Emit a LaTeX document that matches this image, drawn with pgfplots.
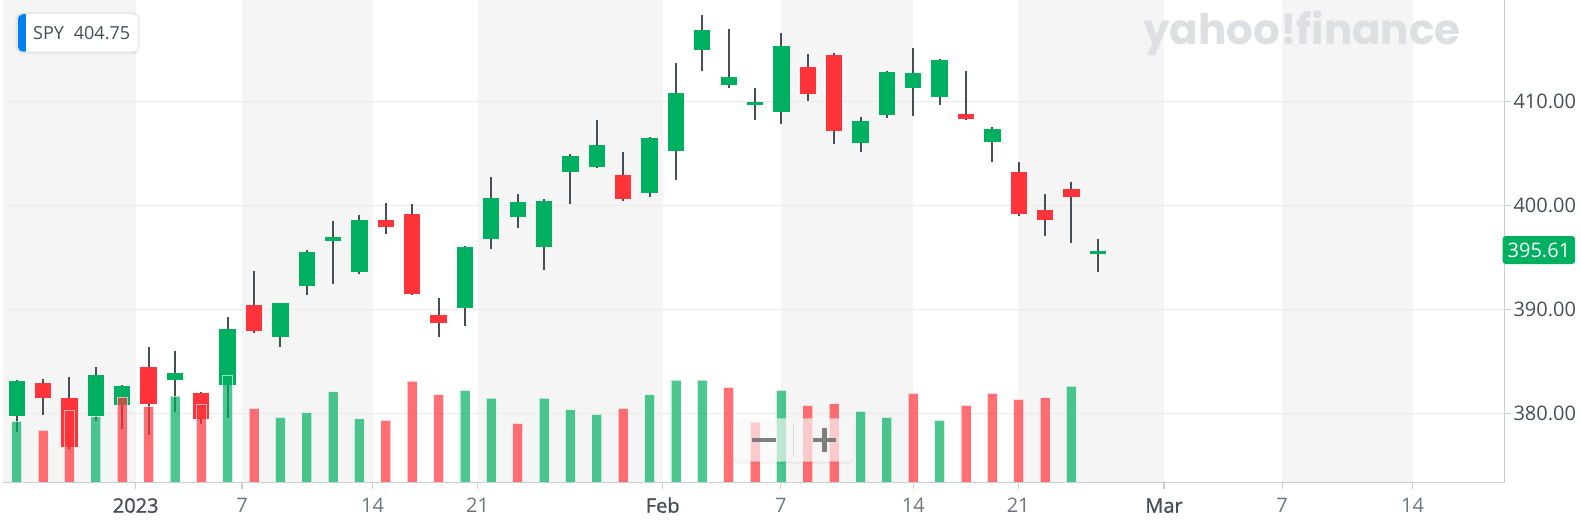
\documentclass[border=0pt]{standalone}
\usepackage{fontspec}
\setmainfont{Open Sans}
\newfontfamily\semib{Open Sans}[FakeBold=1.0]
\newfontfamily\wmfont{Poppins}
\usepackage{graphicx}
\usepackage{pgfplots}
\pgfplotsset{compat=1.18}
\usepackage{pgfplotstable}

\definecolor{upc}{HTML}{00B061}
\definecolor{downc}{HTML}{FF333A}
\definecolor{wickc}{HTML}{464E56}
\definecolor{bandc}{HTML}{F5F5F5}
\definecolor{gridc}{HTML}{EBEBEB}
\definecolor{axisc}{HTML}{C9CDD2}
\definecolor{labc}{HTML}{464E56}
\definecolor{lightlab}{HTML}{6E7780}
\definecolor{blueb}{HTML}{0081F2}
\definecolor{wmc}{HTML}{DDDFE3}

% candles: index, open, high, low, close
\pgfplotstableread{
i o h l c
0 379.78 383.21 378.24 383.09
3 379.78 384.43 379.27 383.66
4 380.78 382.73 378.53 382.64
6 383.25 385.97 380.17 383.92
8 382.70 389.24 379.59 388.16
10 387.33 390.67 386.41 390.60
11 392.22 395.71 391.43 395.58
12 396.63 398.56 392.44 397.00
13 393.65 399.10 393.43 398.62
17 390.10 396.09 388.41 395.99
18 396.76 402.72 395.83 400.77
19 398.94 401.15 397.85 400.35
20 396.06 400.67 393.80 400.48
21 403.27 405.00 400.16 404.78
22 403.69 408.21 403.62 405.80
24 401.22 406.60 400.87 406.54
25 405.26 413.69 402.47 410.87
26 414.94 418.30 412.98 416.89
27 411.63 416.99 411.28 412.40
28 409.65 411.35 408.24 409.97
29 409.04 416.57 407.82 415.32
32 405.99 408.49 405.19 408.11
33 408.75 412.98 408.40 412.88
34 411.31 415.13 408.65 412.72
35 410.48 414.13 409.68 414.01
37 406.15 407.60 404.17 407.37
41 395.30 396.83 393.65 395.61
}\upcandles

\pgfplotstableread{
i o h l c
1 382.92 383.31 379.85 381.51
2 381.48 383.47 376.54 376.73
5 384.50 386.35 377.95 380.93
7 381.93 382.03 378.98 379.49
9 390.44 393.68 387.71 387.90
14 398.62 400.29 397.28 397.92
15 399.20 400.13 391.43 391.52
16 389.46 391.11 387.40 388.67
23 402.92 405.16 400.45 400.67
30 413.30 414.55 410.10 410.74
31 414.49 414.68 405.93 407.15
36 408.81 412.95 408.24 408.30
38 403.21 404.17 398.97 399.23
39 399.58 401.15 397.08 398.65
40 401.60 402.31 396.38 400.80
}\downcandles

% volume (millions)
\pgfplotstableread{
i v
0 61.4
3 66.0
6 86.7
8 107.0
10 65.4
11 70.0
12 91.0
13 64.0
17 92.4
18 84.7
20 84.7
21 73.0
22 68.4
24 88.0
25 102.7
26 102.7
29 92.4
32 71.4
33 65.4
35 62.4
40 96.7
}\upvol

\pgfplotstableread{
i v
1 52.4
2 72.0
4 85.7
5 76.0
7 78.4
9 74.4
14 62.4
15 101.7
16 88.0
19 59.4
23 74.4
27 95.4
28 60.7
30 77.4
31 79.0
34 89.4
36 77.4
37 89.4
38 83.4
39 85.0
}\downvol

\begin{document}
\begin{tikzpicture}
\path[use as bounding box] (0pt,0pt) rectangle (1581pt,523pt);
\fill[white] (0pt,0pt) rectangle (1581pt,523pt);

\begin{axis}[
  at={(3.3pt,40.3pt)}, anchor=south west,
  scale only axis, width=1501.4pt, height=482.7pt,
  xmin=-0.508, xmax=56.43, ymin=373.33, ymax=419.79,
  axis on top,
  axis x line=bottom, axis y line=right,
  axis line style={draw=axisc, line width=1.2pt, -},
  x axis line style={-}, y axis line style={-},
  tick align=outside, major tick length=6pt,
  tick style={draw=axisc, line width=1.2pt},
  xtick={4.513,8.544,13.50,17.48,24.50,28.98,34.0,37.98,43.51,47.99,52.94},
  xticklabels={{\semib\textcolor{labc}{2023}},\textcolor{lightlab}{7},\textcolor{lightlab}{14},\textcolor{lightlab}{21},{\semib\textcolor{labc}{Feb}},\textcolor{lightlab}{7},\textcolor{lightlab}{14},\textcolor{lightlab}{21},{\semib\textcolor{labc}{Mar}},\textcolor{lightlab}{7},\textcolor{lightlab}{14}},
  ytick={380,390,400,410},
  yticklabels={380.00,390.00,400.00,410.00},
  ticklabel style={font=\fontsize{20}{24}\selectfont},
  yticklabel style={anchor=west, inner sep=0pt, xshift=2.6pt, text=labc},
  xticklabel style={anchor=base, inner sep=0pt, yshift=-24pt},
]
% background bands
\addplot[draw=none, fill=bandc, forget plot] coordinates {(-1,370) (4.513,370) (4.513,425) (-1,425)} --cycle;
\addplot[draw=none, fill=bandc, forget plot] coordinates {(8.544,370) (13.50,370) (13.50,425) (8.544,425)} --cycle;
\addplot[draw=none, fill=bandc, forget plot] coordinates {(17.48,370) (24.50,370) (24.50,425) (17.48,425)} --cycle;
\addplot[draw=none, fill=bandc, forget plot] coordinates {(28.98,370) (34.0,370) (34.0,425) (28.98,425)} --cycle;
\addplot[draw=none, fill=bandc, forget plot] coordinates {(37.98,370) (43.51,370) (43.51,425) (37.98,425)} --cycle;
\addplot[draw=none, fill=bandc, forget plot] coordinates {(47.99,370) (52.94,370) (52.94,425) (47.99,425)} --cycle;
% grid lines
\addplot[gridc, line width=1.2pt, forget plot] coordinates {(-1,380) (57,380)};
\addplot[gridc, line width=1.2pt, forget plot] coordinates {(-1,390) (57,390)};
\addplot[gridc, line width=1.2pt, forget plot] coordinates {(-1,400) (57,400)};
\addplot[gridc, line width=1.2pt, forget plot] coordinates {(-1,410) (57,410)};
% wicks
\addplot[draw=none, mark=none, forget plot,
  error bars/.cd, y dir=plus, y explicit, error mark=none,
  error bar style={draw=wickc, line width=2pt}]
  table[x=i, y=l, y error expr=\thisrow{h}-\thisrow{l}] {\upcandles};
\addplot[draw=none, mark=none, forget plot,
  error bars/.cd, y dir=plus, y explicit, error mark=none,
  error bar style={draw=wickc, line width=2pt}]
  table[x=i, y=l, y error expr=\thisrow{h}-\thisrow{l}] {\downcandles};
% bodies
\addplot[draw=none, mark=none, forget plot,
  error bars/.cd, y dir=plus, y explicit, error mark=none,
  error bar style={draw=upc, line width=16.3pt}]
  table[x=i, y=o, y error expr=\thisrow{c}-\thisrow{o}] {\upcandles};
\addplot[draw=none, mark=none, forget plot,
  error bars/.cd, y dir=plus, y explicit, error mark=none,
  error bar style={draw=downc, line width=16.3pt}]
  table[x=i, y=c, y error expr=\thisrow{o}-\thisrow{c}] {\downcandles};
\end{axis}

\begin{axis}[
  at={(3.3pt,40.3pt)}, anchor=south west,
  scale only axis, width=1501.4pt, height=482.7pt,
  xmin=-0.508, xmax=56.43, ymin=0, ymax=482.7,
  axis on top,
  axis x line=bottom, axis y line=none,
  axis line style={draw=axisc, line width=1.2pt, -},
  x axis line style={-},
  xtick=\empty, ytick=\empty,
  ybar, bar width=10pt,
]
\addplot[bar shift=0pt, fill=upc, fill opacity=0.7, draw=white, draw opacity=0.6, line width=0.8pt] table[x=i, y=v] {\upvol};
\addplot[bar shift=0pt, fill=downc, fill opacity=0.7, draw=white, draw opacity=0.6, line width=0.8pt] table[x=i, y=v] {\downvol};
\end{axis}

% zoom control
\fill[black, opacity=0.05, rounded corners=5pt] (732.8pt,59.3pt) rectangle (853.8pt,104.2pt);
\fill[white, opacity=0.65, rounded corners=5pt] (733.3pt,61.3pt) rectangle (853.3pt,104.7pt);
\draw[line width=4.5pt, color=black!58, opacity=0.85] (752pt,83pt) -- (776pt,83pt);
\draw[line width=4.5pt, color=black!58, opacity=0.85] (813pt,83pt) -- (836pt,83pt);
\draw[line width=4.5pt, color=black!58, opacity=0.85] (824.3pt,70.8pt) -- (824.3pt,80.75pt) (824.3pt,85.25pt) -- (824.3pt,94.7pt);
\draw[line width=1.5pt, color=black!15] (793.3pt,66.3pt) -- (793.3pt,100.3pt);

% legend box
\fill[black, opacity=0.03, rounded corners=7pt] (14.9pt,468.3pt) rectangle (140.6pt,510.8pt);
\fill[black, opacity=0.04, rounded corners=6pt] (16.4pt,469.8pt) rectangle (139.1pt,509.8pt);
\fill[white, rounded corners=5pt] (17.9pt,471.3pt) rectangle (137.6pt,508.8pt);
\begin{scope}
\clip[rounded corners=5pt] (17.9pt,471.3pt) rectangle (137.6pt,508.8pt);
\fill[blueb] (17.9pt,471.3pt) rectangle (25.9pt,508.8pt);
\end{scope}
\node[anchor=west, inner sep=0pt, text=labc, font=\fontsize{18}{22}\selectfont] at (33pt,489.5pt) {SPY\hspace{0.55em}404.75};

% last price label
\fill[upc, rounded corners=3pt] (1502.7pt,259pt) rectangle (1575pt,287pt);
\node[text=white, inner sep=0pt, font=\fontsize{20}{24}\selectfont] at (1538.9pt,273pt) {395.61};

% watermark
\node[anchor=base west, inner sep=0pt, text=wmc] at (1142.8pt,478.7pt) {\resizebox{317.5pt}{!}{\fontsize{45}{50}\selectfont\wmfont\bfseries yahoo!finance}};
\end{tikzpicture}
\end{document}
